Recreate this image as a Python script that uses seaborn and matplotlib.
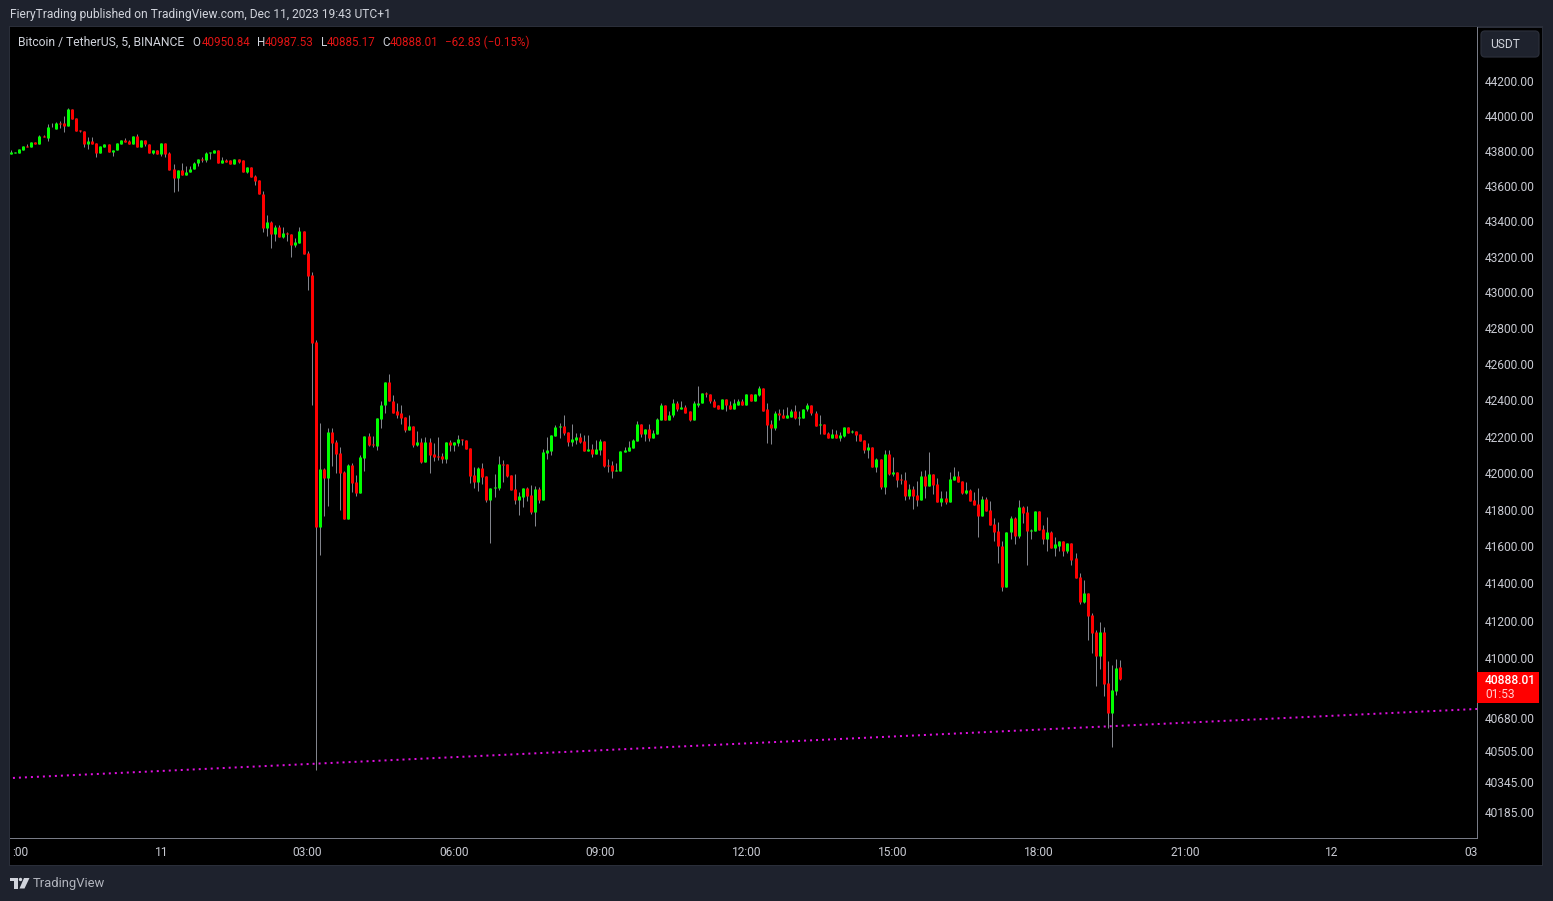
import matplotlib
matplotlib.use("Agg")
import matplotlib.pyplot as plt
import pandas as pd
import seaborn as sns
from matplotlib.patches import FancyBboxPatch, Polygon, Circle, Rectangle
from matplotlib.transforms import IdentityTransform

# BTCUSDT 5m candles
opens = [
    43781, 43790, 43790, 43807, 43830, 43819, 43853, 43841, 43887, 43875, 43938, 43926, 43961, 43961,
    43944, 44040, 43989, 43919, 43915, 43841, 43858, 43847, 43790, 43824, 43841, 43796, 43802, 43841,
    43864, 43858, 43841, 43887, 43824, 43864, 43841, 43785, 43807, 43779, 43847, 43785, 43694, 43643,
    43688, 43665, 43677, 43694, 43728, 43756, 43750, 43790, 43790, 43807, 43733, 43750, 43745, 43722,
    43756, 43745, 43677, 43705, 43654, 43631, 43557, 43364, 43393, 43330, 43370, 43313, 43336, 43330,
    43268, 43279, 43347, 43222, 43097, 42724, 41708, 42023, 41973, 42227, 42172, 42111, 42007, 41751,
    42045, 41951, 41892, 42084, 42205, 42161, 42150, 42299, 42371, 42498, 42398, 42338, 42327, 42310,
    42238, 42260, 42155, 42172, 42062, 42172, 42106, 42095, 42095, 42078, 42172, 42155, 42166, 42189,
    42183, 42139, 41989, 41951, 42029, 41984, 41854, 41919, 41919, 42051, 42051, 41989, 41913, 41854,
    41870, 41919, 41881, 41789, 41913, 41854, 42111, 42122, 42205, 42255, 42260, 42227, 42172, 42183,
    42200, 42178, 42122, 42133, 42106, 42128, 42178, 42045, 42045, 42012, 42012, 42117, 42122, 42139,
    42178, 42271, 42216, 42244, 42194, 42216, 42293, 42376, 42293, 42316, 42382, 42354, 42365, 42338,
    42293, 42376, 42382, 42442, 42437, 42398, 42371, 42349, 42404, 42376, 42354, 42376, 42393, 42376,
    42437, 42398, 42431, 42465, 42349, 42271, 42249, 42332, 42321, 42304, 42310, 42343, 42304, 42304,
    42349, 42376, 42332, 42266, 42271, 42222, 42194, 42216, 42194, 42205, 42255, 42227, 42233, 42216,
    42183, 42128, 42144, 42034, 42078, 41924, 42106, 41995, 42007, 41968, 41962, 41876, 41913, 41881,
    41854, 41984, 41930, 41995, 41940, 41843, 41865, 41843, 41962, 41984, 41957, 41892, 41908, 41854,
    41832, 41767, 41859, 41800, 41724, 41686, 41605, 41383, 41676, 41757, 41659, 41816, 41789, 41686,
    41686, 41794, 41697, 41638, 41681, 41589, 41605, 41632, 41573, 41621, 41535, 41437, 41302, 41346,
    41232, 41140, 41011, 41140, 40867, 40708, 40825, 40950.84,
]
highs = [
    43807, 43796, 43813, 43830, 43841, 43853, 43853, 43892, 43892, 43955, 43961, 43966, 43972, 44000,
    44046, 44040, 43989, 43921, 43915, 43881, 43881, 43847, 43830, 43841, 43841, 43807, 43847, 43864,
    43875, 43864, 43887, 43898, 43864, 43864, 43841, 43807, 43807, 43847, 43847, 43796, 43722, 43688,
    43728, 43716, 43711, 43739, 43756, 43767, 43796, 43796, 43807, 43807, 43762, 43756, 43745, 43756,
    43756, 43745, 43705, 43705, 43660, 43631, 43569, 43438, 43404, 43376, 43376, 43370, 43342, 43330,
    43307, 43370, 43347, 43233, 43114, 42735, 42277, 42029, 42249, 42249, 42183, 42144, 42012, 42051,
    42056, 41989, 42100, 42205, 42222, 42205, 42304, 42398, 42498, 42547, 42431, 42387, 42376, 42310,
    42321, 42260, 42233, 42194, 42200, 42194, 42166, 42200, 42111, 42172, 42183, 42172, 42211, 42189,
    42183, 42139, 42034, 42034, 42056, 41984, 41919, 41995, 42095, 42073, 42051, 41989, 41995, 41897,
    41919, 41924, 41935, 41930, 41924, 42133, 42200, 42211, 42266, 42277, 42321, 42227, 42271, 42222,
    42222, 42211, 42211, 42161, 42183, 42189, 42178, 42078, 42067, 42056, 42122, 42144, 42178, 42189,
    42288, 42271, 42244, 42271, 42238, 42304, 42382, 42376, 42343, 42404, 42393, 42398, 42376, 42338,
    42393, 42476, 42442, 42448, 42437, 42409, 42371, 42409, 42404, 42393, 42409, 42404, 42404, 42437,
    42437, 42437, 42481, 42465, 42387, 42293, 42343, 42354, 42354, 42360, 42354, 42371, 42343, 42354,
    42387, 42376, 42338, 42316, 42271, 42227, 42244, 42238, 42227, 42255, 42255, 42238, 42233, 42216,
    42183, 42166, 42144, 42084, 42078, 42128, 42128, 42089, 42007, 41995, 42007, 41940, 41930, 41957,
    42012, 42018, 42117, 41995, 41973, 41903, 41903, 42007, 42034, 42012, 41957, 41951, 41913, 41897,
    41919, 41876, 41870, 41849, 41757, 41735, 41632, 41681, 41767, 41762, 41854, 41821, 41821, 41697,
    41794, 41794, 41719, 41762, 41686, 41654, 41632, 41632, 41621, 41621, 41567, 41454, 41421, 41346,
    41243, 41151, 41194, 41167, 40984, 40963, 40995, 40987.53,
]
lows = [
    43781, 43786, 43790, 43807, 43819, 43819, 43841, 43841, 43881, 43858, 43934, 43926, 43932, 43909,
    43944, 43983, 43915, 43909, 43824, 43813, 43841, 43762, 43790, 43819, 43796, 43773, 43802, 43841,
    43853, 43841, 43841, 43824, 43824, 43830, 43785, 43779, 43779, 43773, 43767, 43688, 43563, 43569,
    43665, 43665, 43677, 43694, 43716, 43739, 43739, 43756, 43790, 43733, 43733, 43739, 43722, 43722,
    43728, 43677, 43671, 43648, 43608, 43552, 43342, 43319, 43251, 43290, 43313, 43307, 43290, 43199,
    43256, 43279, 43217, 43012, 42371, 40405, 41556, 41767, 41821, 42040, 42000, 41800, 41751, 41751,
    41897, 41876, 41892, 42012, 42150, 42144, 42128, 42249, 42332, 42393, 42332, 42304, 42271, 42227,
    42238, 42144, 42150, 42056, 42062, 42000, 42067, 42073, 42056, 42056, 42122, 42122, 42150, 42155,
    42133, 41946, 41919, 41903, 41940, 41843, 41621, 41870, 41908, 41951, 41978, 41908, 41832, 41773,
    41816, 41849, 41778, 41713, 41838, 41854, 42078, 42100, 42205, 42194, 42211, 42150, 42150, 42161,
    42166, 42122, 42122, 42089, 42106, 42100, 42034, 42007, 41973, 42012, 42012, 42117, 42122, 42139,
    42178, 42200, 42178, 42178, 42194, 42216, 42293, 42293, 42293, 42310, 42338, 42354, 42332, 42288,
    42293, 42365, 42382, 42420, 42382, 42365, 42349, 42349, 42343, 42354, 42354, 42376, 42376, 42376,
    42393, 42398, 42426, 42343, 42166, 42161, 42238, 42293, 42304, 42304, 42310, 42299, 42266, 42304,
    42343, 42316, 42260, 42216, 42216, 42194, 42194, 42194, 42178, 42200, 42222, 42222, 42178, 42178,
    42111, 42084, 42034, 42007, 41913, 41886, 41989, 41984, 41924, 41940, 41854, 41859, 41805, 41821,
    41854, 41865, 41930, 41886, 41843, 41821, 41832, 41843, 41962, 41951, 41886, 41886, 41849, 41827,
    41654, 41767, 41794, 41719, 41632, 41513, 41362, 41383, 41638, 41611, 41648, 41730, 41497, 41643,
    41686, 41692, 41611, 41578, 41589, 41551, 41578, 41551, 41562, 41497, 41427, 41292, 41297, 41097,
    41027, 40851, 40942, 40798, 40628, 40527, 40804, 40885.17,
]
closes = [
    43796, 43796, 43813, 43830, 43824, 43853, 43841, 43887, 43881, 43938, 43934, 43961, 43955, 43944,
    44040, 43983, 43915, 43913, 43841, 43858, 43841, 43790, 43830, 43841, 43796, 43807, 43847, 43864,
    43853, 43841, 43887, 43824, 43864, 43836, 43785, 43807, 43779, 43847, 43779, 43688, 43643, 43688,
    43665, 43682, 43699, 43733, 43756, 43750, 43790, 43796, 43807, 43733, 43750, 43739, 43722, 43756,
    43739, 43677, 43705, 43648, 43626, 43552, 43364, 43393, 43330, 43370, 43313, 43336, 43330, 43268,
    43285, 43347, 43217, 43091, 42718, 41708, 42022, 41973, 42227, 42166, 42106, 42000, 41751, 42045,
    41946, 41892, 42089, 42205, 42155, 42155, 42304, 42376, 42498, 42393, 42332, 42321, 42304, 42238,
    42260, 42155, 42172, 42062, 42172, 42100, 42089, 42089, 42078, 42172, 42155, 42172, 42189, 42183,
    42133, 41984, 41951, 42029, 41978, 41854, 41919, 41924, 42051, 42045, 41984, 41908, 41854, 41876,
    41919, 41876, 41789, 41913, 41854, 42117, 42128, 42211, 42255, 42260, 42222, 42172, 42189, 42200,
    42172, 42122, 42133, 42106, 42133, 42178, 42040, 42040, 42012, 42018, 42122, 42128, 42144, 42183,
    42271, 42216, 42244, 42194, 42222, 42299, 42376, 42293, 42321, 42382, 42354, 42365, 42332, 42293,
    42382, 42387, 42442, 42437, 42393, 42365, 42349, 42404, 42371, 42354, 42382, 42393, 42376, 42437,
    42398, 42437, 42465, 42343, 42266, 42249, 42332, 42316, 42304, 42316, 42343, 42304, 42310, 42354,
    42376, 42327, 42260, 42271, 42216, 42194, 42216, 42194, 42211, 42255, 42222, 42233, 42211, 42178,
    42128, 42144, 42034, 42078, 41924, 42106, 41995, 42007, 41962, 41962, 41876, 41913, 41876, 41854,
    41984, 41930, 41995, 41935, 41843, 41865, 41843, 41968, 41984, 41951, 41892, 41908, 41849, 41827,
    41767, 41859, 41794, 41719, 41681, 41600, 41383, 41681, 41757, 41659, 41816, 41784, 41686, 41692,
    41794, 41692, 41638, 41681, 41589, 41611, 41632, 41573, 41621, 41529, 41432, 41302, 41346, 41226,
    41135, 41011, 41140, 40862, 40708, 40830, 40947, 40888.01,
]
trend_x = [-1, 361]
trend_y = [40363, 40729]

price_ticks = [44200, 44000, 43800, 43600, 43400, 43200, 43000, 42800, 42600, 42400, 42200, 42000,
               41800, 41600, 41400, 41200, 41000, 40680, 40505, 40345, 40185]
time_ticks = [2.2, 37, 73, 109, 145, 181, 217, 253, 289, 325, 359.4]
time_labels = [":00", "11", "03:00", "06:00", "09:00", "12:00", "15:00", "18:00", "21:00", "12", "03"]

W, H = 1553, 901
BG = "#1e222d"
BORDER = "#2a2e39"
AXIS = "#787b86"
LABEL = "#c8cad2"
RED = "#ff0000"
GREEN = "#00ff00"
WICK = "#85878f"

df = pd.DataFrame({"n": range(len(opens)), "open": opens, "high": highs, "low": lows, "close": closes})

sns.set_theme(style="dark", rc={"axes.facecolor": "black", "figure.facecolor": BG, "axes.grid": False})
plt.rcParams["font.family"] = ["Roboto", "DejaVu Sans"]

fig = plt.figure(figsize=(W / 100, H / 100), dpi=100)
ax = fig.add_axes([10 / W, (H - 838) / H, 1467 / W, 811 / H])
ax.set_yscale("log")


def to_long(frame, a, b):
    return pd.concat([frame[["n", a]].rename(columns={a: "price"}),
                      frame[["n", b]].rename(columns={b: "price"})])


# widths just under 1px and 3px so agg snaps them to exactly that many pixels
line_kws = dict(x="n", y="price", units="n", estimator=None, legend=False,
                solid_capstyle="butt", ax=ax)
sns.lineplot(data=to_long(df, "low", "high"), color=WICK, linewidth=0.71, zorder=2, **line_kws)
up = df[df["close"] >= df["open"]]
down = df[df["close"] < df["open"]]
sns.lineplot(data=to_long(down, "open", "close"), color=RED, linewidth=2.15, zorder=3, **line_kws)
sns.lineplot(data=to_long(up, "open", "close"), color=GREEN, linewidth=2.15, zorder=3, **line_kws)

sns.lineplot(x=trend_x, y=trend_y, color="#e010e0", linewidth=1.44, linestyle=(0, (1, 2)),
             estimator=None, zorder=4, ax=ax)

ax.set_xlim(-0.246, 360.8)
ax.set_ylim(40050, 44512)
ax.minorticks_off()
ax.set_yticks(price_ticks)
ax.set_yticklabels([f"{p:.2f}" for p in price_ticks])
ax.yaxis.tick_right()
ax.set_xticks(time_ticks)
ax.set_xticklabels(time_labels)
ax.set_xlabel("")
ax.set_ylabel("")
ax.tick_params(axis="y", length=0, pad=5.8, labelsize=8.64, labelcolor=LABEL)
ax.tick_params(axis="x", length=0, pad=5.5, labelsize=8.64, labelcolor=LABEL)
for side in ["top", "left"]:
    ax.spines[side].set_visible(False)
for side in ["right", "bottom"]:
    ax.spines[side].set_color(AXIS)
    ax.spines[side].set_linewidth(0.72)
ax.patch.set_zorder(0)


def px_box(x0, y0, x1, y1, **kws):
    r = Rectangle((x0, H - y1), x1 - x0, y1 - y0, transform=IdentityTransform(), **kws)
    fig.add_artist(r)
    r.set_zorder(kws.get("zorder", -5))
    return r


def label(x, y, s, color=LABEL, size=8.64, **kws):
    fig.text(x / W, 1 - y / H, s, color=color, fontsize=size, va="center", ha="left", **kws)


# frame around pane and scales
px_box(9, 26, 1543, 866, facecolor=BORDER, edgecolor="none", zorder=-6)
px_box(10, 28, 1542, 865, facecolor="black", edgecolor="none", zorder=-5)

label(10, 14.5, "FieryTrading published on TradingView.com, Dec 11, 2023 19:43 UTC+1", color="#d1d4dc", size=8.68)
label(17.5, 42, "Bitcoin / TetherUS, 5, BINANCE", color="#d1d4dc", size=8.75)
VAL = "#e01414"
for x, s, c in [(192.5, "O", "#d1d4dc"), (202, "40950.84", VAL), (256.5, "H", "#d1d4dc"), (265, "40987.53", VAL),
                (320.5, "L", "#d1d4dc"), (327, "40885.17", VAL), (382, "C", "#d1d4dc"), (390, "40888.01", VAL),
                (445, "\u221262.83 (\u22120.15%)", VAL)]:
    label(x, 42, s, color=c, size=8.4)

# USDT button
btn = FancyBboxPatch((1481, H - 57), 58, 26, boxstyle="round,pad=0,rounding_size=4", mutation_aspect=1,
                     transform=IdentityTransform(), facecolor=BG, edgecolor=BORDER, linewidth=0.9)
fig.add_artist(btn)
label(1490, 45, "USDT", color="#d1d4dc")

# last price tag
tag = Rectangle((1477, H - 703), 62, 31, transform=IdentityTransform(), facecolor=RED, edgecolor="none", zorder=5)
fig.add_artist(tag)
label(1485, 680.5, "40888.01", color="white", zorder=6, fontweight="medium")
label(1485, 695, "01:53", color="#ffd0d0", zorder=6)

# TradingView logo, bottom left
logo = "#d1d4dc"
fig.add_artist(Polygon([(10, H - 878), (18, H - 878), (18, H - 888.5), (14, H - 888.5), (14, H - 881), (10, H - 881)],
                       closed=True, transform=IdentityTransform(), facecolor=logo, edgecolor="none"))
fig.add_artist(Circle((20.5, H - 879.5), 1.7, transform=IdentityTransform(), facecolor=logo, edgecolor="none"))
fig.add_artist(Polygon([(24, H - 878), (29.5, H - 878), (24.5, H - 888.5), (19.5, H - 888.5)],
                       closed=True, transform=IdentityTransform(), facecolor=logo, edgecolor="none"))
label(33, 883.5, "TradingView", color="#b2b5be", size=9.35)

fig.savefig("out.png", dpi=100, facecolor=BG)
